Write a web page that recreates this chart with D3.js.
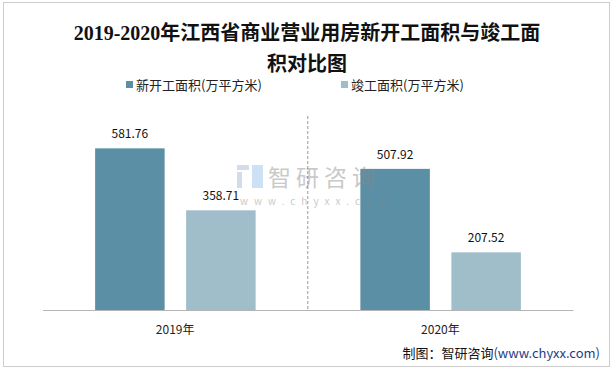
<!DOCTYPE html>
<html><head><meta charset="utf-8">
<script src="https://cdn.jsdelivr.net/npm/d3@7/dist/d3.min.js"></script>
<style>body{margin:0;background:#fff}svg{display:block}</style>
</head><body>
<script>
const categories = ["2019年", "2020年"];
const seriesNames = ["新开工面积(万平方米)", "竣工面积(万平方米)"];
const newStart = [581.76, 507.92];
const completed = [358.71, 207.52];
const colors = ["#5b8fa5", "#a0bdca"];

const W = 614, H = 369;
const svg = d3.select("body").append("svg").attr("width", W).attr("height", H);
const cjk = "'Noto Sans CJK SC','Microsoft YaHei',sans-serif";

svg.append("rect").attr("x", 3.5).attr("y", 2.5).attr("width", 606).attr("height", 364)
  .attr("fill", "#fff").attr("stroke", "#9a9a9a").attr("stroke-dasharray", "1,1");

// title
const title = svg.append("text").attr("text-anchor", "middle")
  .attr("font-family", "'Liberation Serif','Noto Sans CJK SC',serif").attr("font-weight", "bold")
  .attr("font-size", 20).attr("fill", "#111");
title.append("tspan").attr("x", 307).attr("y", 40).text("2019-2020年江西省商业营业用房新开工面积与竣工面");
title.append("tspan").attr("x", 307).attr("y", 71).text("积对比图");

// legend
const legX = [126, 341];
seriesNames.forEach((n, i) => {
  svg.append("rect").attr("x", legX[i]).attr("y", 81).attr("width", 7).attr("height", 7).attr("fill", colors[i]);
  svg.append("text").attr("x", legX[i] + 10).attr("y", 89.5).attr("font-family", cjk)
    .attr("font-size", 13).attr("fill", "#222").text(n);
});

// scales
const x0 = d3.scaleBand().domain(categories).range([42.5, 573]).padding(0);
const y = d3.scaleLinear().domain([0, 700]).range([310, 115.5]);
const series = [newStart, completed];
const barW = 69.5;
const offsets = [-80, 11];

// bars
series.forEach((vals, si) => {
  const g = svg.append("g");
  g.selectAll("rect").data(vals).join("rect")
    .attr("x", (d, i) => x0(categories[i]) + x0.bandwidth() / 2 + offsets[si])
    .attr("y", d => y(d)).attr("width", barW).attr("height", d => y(0) - y(d))
    .attr("fill", colors[si]);
  g.selectAll("text").data(vals).join("text")
    .attr("x", (d, i) => x0(categories[i]) + x0.bandwidth() / 2 + offsets[si] + barW / 2)
    .attr("y", d => y(d) - 10).attr("text-anchor", "middle")
    .attr("font-family", cjk).attr("font-size", 12).attr("fill", "#111")
    .text(d => d.toFixed(2));
});

// separator
svg.append("line").attr("x1", x0(categories[1])).attr("x2", x0(categories[1]))
  .attr("y1", 116).attr("y2", 310).attr("stroke", "#aaa").attr("stroke-width", 1.2)
  .attr("stroke-dasharray", "3,2");

// watermark (on top, translucent)
const wm = svg.append("g").attr("opacity", 0.45);
wm.append("rect").attr("x", 237).attr("y", 165).attr("width", 12).attr("height", 5).attr("fill", "#9fb3cf");
wm.append("rect").attr("x", 237).attr("y", 172).attr("width", 5).attr("height", 16).attr("fill", "#9fb3cf");
wm.append("rect").attr("x", 252).attr("y", 165).attr("width", 11).attr("height", 23).attr("fill", "#8fbde6");
wm.append("text").attr("x", 268).attr("y", 186).attr("font-family", cjk).attr("font-size", 23)
  .attr("fill", "#888").attr("letter-spacing", 5).text("智研咨询");
wm.append("text").attr("x", 240).attr("y", 205).attr("font-family", cjk).attr("font-size", 10)
  .attr("fill", "#888").attr("letter-spacing", 6).text("www.chyxx.com");

// axis
const axis = svg.append("g").attr("transform", "translate(0,310)")
  .call(d3.axisBottom(x0).tickSize(0).tickPadding(15));
axis.select(".domain").attr("stroke", "#b5b5b5").attr("stroke-width", 1.2);
axis.selectAll("text").attr("font-family", cjk).attr("font-size", 12).attr("fill", "#222");

// source
const src = svg.append("text").attr("x", 600).attr("y", 358).attr("text-anchor", "end")
  .attr("font-family", cjk).attr("font-size", 13);
src.append("tspan").attr("fill", "#111").text("制图：智研咨询");
src.append("tspan").attr("fill", "#1f3a8a").text("(www.chyxx.com)");
</script>
</body></html>
